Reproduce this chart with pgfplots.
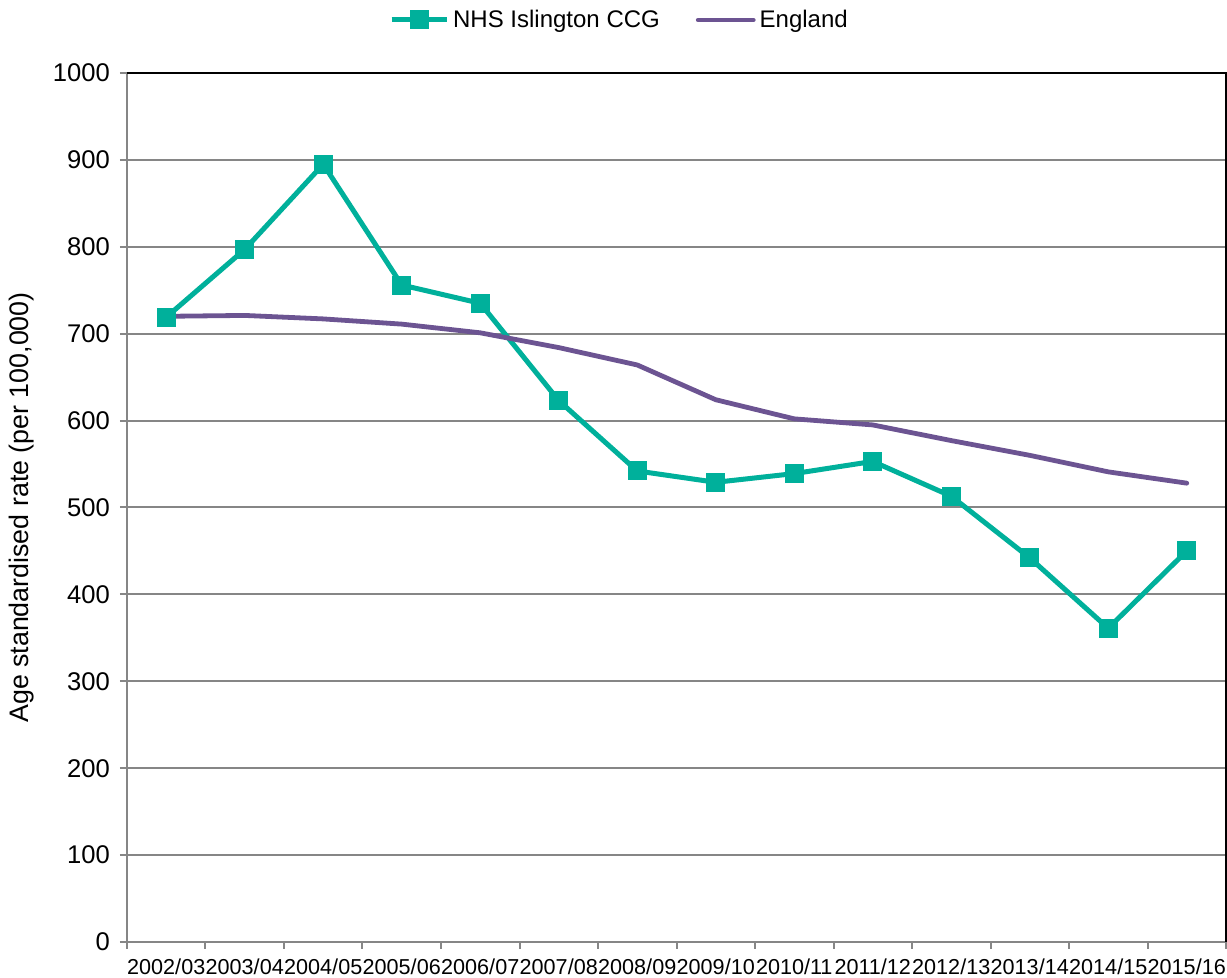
\documentclass[border=0pt]{standalone}
\usepackage{pgfplots}
\pgfplotsset{compat=1.18}
\usepackage{fontspec}
\setmainfont{Liberation Sans}
\definecolor{tealc}{RGB}{0,176,155}
\definecolor{purp}{RGB}{108,84,146}
\definecolor{axgrey}{RGB}{134,134,134}
\pgfplotstableread{
x isl eng
0 719 720
1 797 721
2 895 717
3 756 711
4 735 701
5 623 684
6 542 664
7 529 624
8 539 602
9 553 595
10 513 577
11 442 560
12 361 541
13 450 528
}\datatab
\begin{document}
\begin{tikzpicture}
\begin{axis}[
  scale only axis, width=549.5pt, height=434.5pt,
  xmin=-0.5, xmax=13.5, ymin=0, ymax=1000,
  xtick={-0.5,0.5,...,13.5},
  xticklabels={2002/03,2003/04,2004/05,2005/06,2006/07,2007/08,2008/09,2009/10,2010/11,2011/12,2012/13,2013/14,2014/15,2015/16,{}},
  xticklabel style={xshift=19.625pt, yshift=-1.5pt, font=\fontsize{10.8}{12}\selectfont},
  xtick pos=bottom, ytick pos=left,
  ytick={0,100,...,1000},
  yticklabel style={font=\fontsize{12.8}{14}\selectfont, xshift=-1.5pt},
  /pgf/number format/assume math mode=true,
  /pgf/number format/1000 sep={},
  ymajorgrids, grid style={axgrey, line width=1pt},
  axis line style={axgrey, line width=1pt},
  tick style={axgrey, line width=1pt},
  tick align=outside, major tick length=3.5pt,
  ylabel={Age standardised rate (per 100,000)},
  ylabel style={at={(axis description cs:-0.0955,0.5)}, anchor=center, font=\fontsize{13.4}{15}\selectfont},
  legend columns=2,
  legend style={draw=none, at={(axis description cs:0.449,1.061)}, anchor=center, font=\fontsize{12}{14}\selectfont, /tikz/every even column/.append style={column sep=16pt}},
  legend image code/.code={\draw[mark repeat=2,mark phase=2,#1] plot coordinates {(0pt,0pt) (13.75pt,0pt) (27.5pt,0pt)};},
  clip=false,
]
\addplot[tealc, line width=2.5pt, mark=square*, mark size=3.5pt, mark options={solid}] table[x=x,y=isl] {\datatab};
\addlegendentry{NHS Islington CCG}
\addplot[purp, line width=2.4pt, line join=round, line cap=round] table[x=x,y=eng] {\datatab};
\addlegendentry{England}
\draw[black, line width=1pt] (rel axis cs:0,1) -- (rel axis cs:1,1) -- (rel axis cs:1,0);
\end{axis}
\pgfresetboundingbox
\path[use as bounding box] (-63.5pt,-18pt) rectangle (550pt,471pt);
\end{tikzpicture}
\end{document}
